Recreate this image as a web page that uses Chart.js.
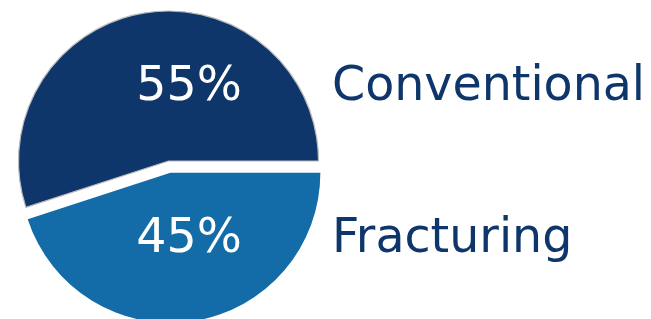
<!DOCTYPE html>
<html>
<head>
<meta charset="utf-8">
<script src="https://cdn.jsdelivr.net/npm/chart.js@4/dist/chart.umd.min.js"></script>
<style>
  html, body { margin: 0; padding: 0; background: #ffffff; }
  #wrap { position: relative; width: 651px; height: 319px; overflow: hidden; }
  #c { position: absolute; left: 0; top: 0; }
  .lbl { position: absolute; font-family: "DejaVu Sans", Verdana, sans-serif; font-size: 47.5px; line-height: 47.5px; white-space: nowrap; }
  .name { color: #0e366a; }
  .pct { color: #ffffff; transform: translateX(-50%); }
</style>
</head>
<body>
<div id="wrap">
  <canvas id="c" width="651" height="319"></canvas>
</div>
<script>
// Data (drawn clockwise from 3 o'clock)
const categories = ["Fracturing", "Conventional"];
const values = [45, 55];
const colors = ["#136ba8", "#0e366a"];
const explode = [12, 0];           // slice pull-out distance, px
const borderColors = ["#136ba8", "#b9b9b9"];
const borderWidths = [0, 1.2];

const wrap = document.getElementById('wrap');
const total = values.reduce((a, b) => a + b, 0);

const nameDivs = categories.map(c => {
  const d = document.createElement('div');
  d.className = 'lbl name';
  d.textContent = c;
  wrap.appendChild(d);
  return d;
});
const pctDivs = values.map(v => {
  const d = document.createElement('div');
  d.className = 'lbl pct';
  d.textContent = Math.round(v / total * 100) + '%';
  wrap.appendChild(d);
  return d;
});

const ASC = 40.2; // baseline offset from div top (DejaVu Sans 47.5px, line-height 1)

// Pull slices out along their mid-angle without changing radius
const explodePlugin = {
  id: 'explodePlugin',
  afterDatasetUpdate(chart, args) {
    const meta = chart.getDatasetMeta(args.index);
    meta.data.forEach((arc, i) => {
      const d = explode[i] || 0;
      if (!d) return;
      const mid = (arc.startAngle + arc.endAngle) / 2;
      arc.x += Math.cos(mid) * d;
      arc.y += Math.sin(mid) * d;
    });
  }
};

const labelPlugin = {
  id: 'labelPlugin',
  afterDraw(chart) {
    const meta = chart.getDatasetMeta(0);
    const ca = chart.chartArea;
    const cx = (ca.left + ca.right) / 2;
    const cy = (ca.top + ca.bottom) / 2;
    meta.data.forEach((arc, i) => {
      const mid = (arc.startAngle + arc.endAngle) / 2;
      const s = Math.sin(mid) >= 0 ? 1 : -1;
      const r = arc.outerRadius;
      const midY = cy + s * 0.505 * r - 2;
      const baseline = midY + 17;
      pctDivs[i].style.left = (cx + 0.137 * r) + 'px';
      pctDivs[i].style.top = (baseline - ASC) + 'px';
      nameDivs[i].style.left = (ca.right - 5) + 'px';
      nameDivs[i].style.top = (baseline - ASC) + 'px';
    });
  }
};

new Chart(document.getElementById('c'), {
  type: 'pie',
  data: {
    labels: categories,
    datasets: [{
      data: values,
      backgroundColor: colors,
      borderColor: borderColors,
      borderWidth: borderWidths,
      hoverOffset: 0
    }]
  },
  options: {
    responsive: false,
    animation: false,
    rotation: 90,
    radius: 150,
    layout: { padding: { left: 0, right: 314, top: 3, bottom: 0 } },
    plugins: { legend: { display: false }, tooltip: { enabled: false } },
    events: []
  },
  plugins: [explodePlugin, labelPlugin]
});
</script>
</body>
</html>
